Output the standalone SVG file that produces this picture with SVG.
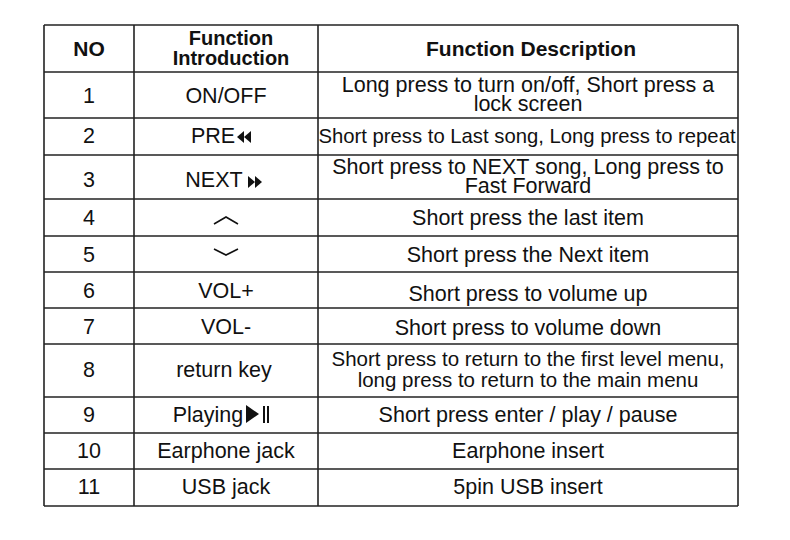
<svg xmlns="http://www.w3.org/2000/svg" width="790" height="540" viewBox="0 0 790 540">
<style>
text{font-family:"Liberation Sans",Arial,sans-serif;font-size:21.5px;fill:#111;text-anchor:middle}
.h{font-weight:bold;font-size:20px}
.g line{stroke:#222;stroke-width:1.6}
</style>
<rect width="790" height="540" fill="#fff"/>
<g class="g" id="grid">
<line x1="44" y1="25" x2="738" y2="25"/><line x1="44" y1="72" x2="738" y2="72"/>
<line x1="44" y1="118" x2="738" y2="118"/><line x1="44" y1="155" x2="738" y2="155"/>
<line x1="44" y1="199" x2="738" y2="199"/><line x1="44" y1="236" x2="738" y2="236"/>
<line x1="44" y1="272" x2="738" y2="272"/><line x1="44" y1="308" x2="738" y2="308"/>
<line x1="44" y1="344" x2="738" y2="344"/><line x1="44" y1="397" x2="738" y2="397"/>
<line x1="44" y1="433" x2="738" y2="433"/><line x1="44" y1="469" x2="738" y2="469"/>
<line x1="44" y1="506" x2="738" y2="506"/>
<line x1="44" y1="25" x2="44" y2="506"/><line x1="134" y1="25" x2="134" y2="506"/>
<line x1="318" y1="25" x2="318" y2="506"/><line x1="738" y1="25" x2="738" y2="506"/>
</g>
<g id="header">
<text class="h" x="89" y="56" style="font-size:21px">NO</text>
<text class="h" x="231" y="45">Function</text><text class="h" x="231" y="65">Introduction</text>
<text class="h" x="531" y="56" style="font-size:21px">Function Description</text>
</g>
<g id="col1">
<text x="89" y="103">1</text><text x="89" y="143">2</text><text x="89" y="187">3</text>
<text x="89" y="225">4</text><text x="89" y="262">5</text><text x="89" y="298">6</text>
<text x="89" y="334">7</text><text x="89" y="377">8</text><text x="89" y="422">9</text>
<text x="89" y="458">10</text><text x="89" y="494">11</text>
</g>
<g id="col2">
<text x="226" y="103">ON/OFF</text>
<text x="213" y="143">PRE</text>
<polygon points="244,143 237,137 244,131" fill="#111"/><polygon points="251,143 244,137 251,131" fill="#111"/>
<text x="214" y="187">NEXT</text>
<polygon points="248,176 255,182 248,188" fill="#111"/><polygon points="255,176 262,182 255,188" fill="#111"/>
<path d="M214,224 L226,217 L238,224" fill="none" stroke="#111" stroke-width="1.6"/>
<path d="M214,249 L226,255 L238,249" fill="none" stroke="#111" stroke-width="1.6"/>
<text x="226" y="298">VOL+</text><text x="226" y="334">VOL-</text>
<text x="224" y="377">return key</text>
<text x="208" y="422">Playing</text>
<polygon points="246,405 259,414 246,423" fill="#111"/>
<rect x="263" y="406" width="2" height="17" fill="#111"/><rect x="267" y="406" width="2" height="17" fill="#111"/>
<text x="226" y="458">Earphone jack</text><text x="226" y="494">USB jack</text>
</g>
<g id="col3">
<text x="528" y="92">Long press to turn on/off, Short press a</text>
<text x="528" y="111">lock screen</text>
<text x="527" y="143" style="font-size:20.3px">Short press to Last song, Long press to repeat</text>
<text x="528" y="174">Short press to NEXT song, Long press to</text>
<text x="528" y="193">Fast Forward</text>
<text x="528" y="225">Short press the last item</text>
<text x="528" y="262">Short press the Next item</text>
<text x="528" y="301">Short press to volume up</text>
<text x="528" y="335">Short press to volume down</text>
<text x="528" y="366" style="font-size:20.5px">Short press to return to the first level menu,</text>
<text x="528" y="387" style="font-size:20.5px">long press to return to the main menu</text>
<text x="528" y="422">Short press enter / play / pause</text>
<text x="528" y="458">Earphone insert</text>
<text x="528" y="494">5pin USB insert</text>
</g>
</svg>
